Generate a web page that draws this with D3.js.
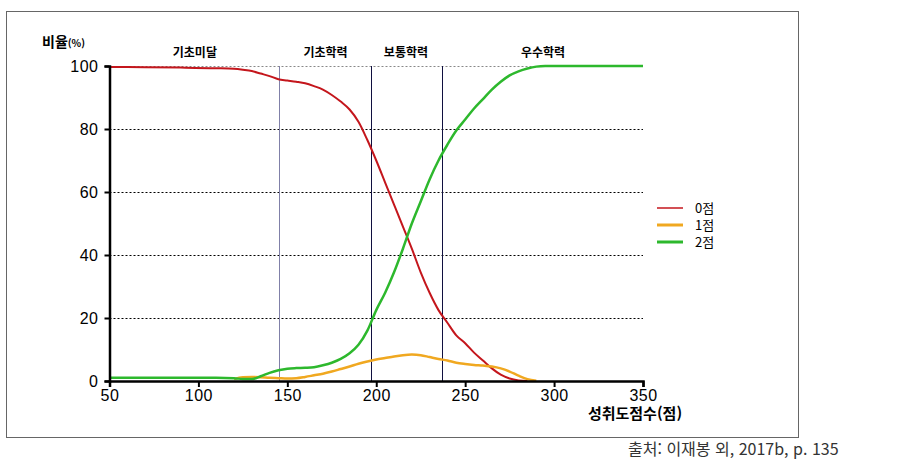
<!DOCTYPE html>
<html lang="ko">
<head>
<meta charset="UTF-8">
<title>성취도점수별 응답 비율</title>
<script src="https://cdnjs.cloudflare.com/ajax/libs/d3/7.8.5/d3.min.js"></script>
<style>
    body { margin: 0; background: #fff; }
    svg { display: block; }
    .tick text { font-family: Arial, "Liberation Sans", sans-serif; font-size: 16px; fill: #000; letter-spacing: 0.5px; }
    .kor { font-family: "Noto Sans CJK KR", sans-serif; }
</style>
</head>
<body>
<div id="chart"></div>
<script>
    // 성취도점수 (x)
    const scores = [50, 70, 90, 110, 120, 125, 130, 135, 140, 145, 150, 155, 160, 165, 170, 175, 180, 185, 190, 195,
                    200, 205, 210, 215, 220, 225, 230, 235, 240, 245, 250, 255, 260, 265, 270, 275, 280, 285, 290, 295, 300, 350];
    // 0점 비율
    const score0 = [99.7, 99.6, 99.5, 99.3, 99.1, 98.8, 98.4, 97.6, 96.8, 95.8, 95.4, 95, 94.5, 93.6, 92.5, 90.8, 88.7, 86.2, 82.3, 76.5,
                    70, 63, 56, 49, 42, 34.5, 28, 22.5, 18.5, 14.5, 12, 9, 6.5, 4, 2, 0.8, 0.2, 0, null, null, null, null];
    // 1점 비율
    const score1 = [null, null, null, null, 0.6, 1.2, 1.3, 1.2, 1.0, 0.9, 0.8, 0.9, 1.3, 1.8, 2.3, 3, 3.8, 4.6, 5.5, 6.2,
                    6.8, 7.3, 7.8, 8.2, 8.4, 8.2, 7.6, 7, 6.5, 5.8, 5.4, 5.1, 4.9, 4.6, 4, 3, 1.7, 0.6, 0.1, null, null, null];
    // 2점 비율
    const score2 = [1, 1, 1, 1, 0.9, 0.6, 0.6, 1.5, 2.6, 3.4, 3.9, 4.1, 4.2, 4.4, 5, 5.8, 7, 8.8, 11.5, 16,
                    22.5, 28, 34.5, 42, 50, 57, 64, 70, 75, 79.5, 83, 86.5, 89.5, 92.5, 95, 97, 98.3, 99.2, 99.8, 100, 100, 100];

    const seriesNames = ["0점", "1점", "2점"];
    const seriesColors = ["#c4161c", "#f0a820", "#2db82d"];
    const seriesWidths = [2, 2.5, 2.5];

    // 성취수준 경계 점수와 이름
    const cutScores = [145.5, 197.3, 237.2];
    const levelNames = ["기초미달", "기초학력", "보통학력", "우수학력"];
    const levelCenters = [98, 171.5, 216.7, 293.8];

    const xTicks = [50, 100, 150, 200, 250, 300, 350];
    const yTicks = [0, 20, 40, 60, 80, 100];

    const width = 901, height = 469;
    const x = d3.scaleLinear().domain([50, 350]).range([109.5, 643]);
    const y = d3.scaleLinear().domain([0, 100]).range([381, 66]);

    const svg = d3.select("#chart").append("svg")
        .attr("width", width)
        .attr("height", height);

    // outer frame
    svg.append("rect")
        .attr("x", 6.5).attr("y", 11.5)
        .attr("width", 792).attr("height", 426)
        .attr("fill", "none")
        .attr("stroke", "#666")
        .attr("stroke-width", 1);

    // dotted grid lines
    svg.append("g")
        .selectAll("line")
        .data(yTicks.filter(d => d > 0))
        .join("line")
        .attr("x1", x(50)).attr("x2", x(350))
        .attr("y1", d => Math.round(y(d)) + 0.5)
        .attr("y2", d => Math.round(y(d)) + 0.5)
        .attr("stroke", d => d === 100 ? "#888" : "#000")
        .attr("stroke-width", 1)
        .attr("stroke-dasharray", "2,2");

    // cut score lines
    svg.append("g")
        .selectAll("line")
        .data(cutScores)
        .join("line")
        .attr("x1", d => Math.round(x(d)) + 0.5)
        .attr("x2", d => Math.round(x(d)) + 0.5)
        .attr("y1", y(100)).attr("y2", y(0))
        .attr("stroke", (d, i) => i === 0 ? "#8080a8" : "#101040")
        .attr("stroke-width", 1);

    // level names
    svg.append("g")
        .selectAll("text")
        .data(levelNames)
        .join("text")
        .attr("class", "kor")
        .attr("x", (d, i) => x(levelCenters[i]))
        .attr("y", 57)
        .attr("text-anchor", "middle")
        .attr("font-size", "12px")
        .attr("font-weight", "bold")
        .text(d => d);

    // lines
    const line = d3.line()
        .defined(d => d[1] !== null)
        .x(d => x(d[0]))
        .y(d => y(d[1]))
        .curve(d3.curveMonotoneX);

    const seriesData = [score0, score1, score2];
    svg.append("g")
        .selectAll("path")
        .data(seriesData)
        .join("path")
        .attr("fill", "none")
        .attr("stroke", (d, i) => seriesColors[i])
        .attr("stroke-width", (d, i) => seriesWidths[i])
        .attr("d", vals => line(scores.map((s, i) => [s, vals[i]])));

    // axes
    const xAxis = svg.append("g")
        .attr("transform", `translate(0,${y(0)})`)
        .call(d3.axisBottom(x).tickValues(xTicks).tickSize(6).tickPadding(3));
    const yAxis = svg.append("g")
        .attr("transform", `translate(${x(50)},0)`)
        .call(d3.axisLeft(y).tickValues(yTicks).tickSize(5).tickPadding(6));

    [xAxis, yAxis].forEach(a => {
        a.select(".domain").attr("stroke", "#000").attr("stroke-width", 2.5);
        a.selectAll(".tick line").attr("stroke", "#000").attr("stroke-width", 2);
    });
    yAxis.selectAll(".tick text").attr("dy", "0.35em");

    // axis titles
    const yTitle = svg.append("text")
        .attr("class", "kor")
        .attr("x", 42).attr("y", 47)
        .attr("font-weight", "bold")
        .attr("font-size", "14px");
    yTitle.append("tspan").text("비율");
    yTitle.append("tspan").attr("font-size", "10px").text("(%)");

    svg.append("text")
        .attr("class", "kor")
        .attr("x", 635).attr("y", 419)
        .attr("text-anchor", "middle")
        .attr("font-weight", "bold")
        .attr("font-size", "15px")
        .text("성취도점수(점)");

    // legend
    const legend = svg.append("g")
        .selectAll("g")
        .data(seriesNames)
        .join("g")
        .attr("transform", (d, i) => `translate(657,${208 + i * 17})`);
    legend.append("line")
        .attr("x1", 0).attr("x2", 26)
        .attr("stroke", (d, i) => seriesColors[i])
        .attr("stroke-width", (d, i) => i === 0 ? 1.5 : 3);
    legend.append("text")
        .attr("class", "kor")
        .attr("x", 38).attr("y", 5)
        .attr("font-size", "13px")
        .text(d => d);

    // source
    svg.append("text")
        .attr("class", "kor")
        .attr("x", 628).attr("y", 455)
        .attr("font-size", "16px")
        .attr("fill", "#333")
        .text("출처: 이재봉 외, 2017b, p. 135");
</script>
</body>
</html>
